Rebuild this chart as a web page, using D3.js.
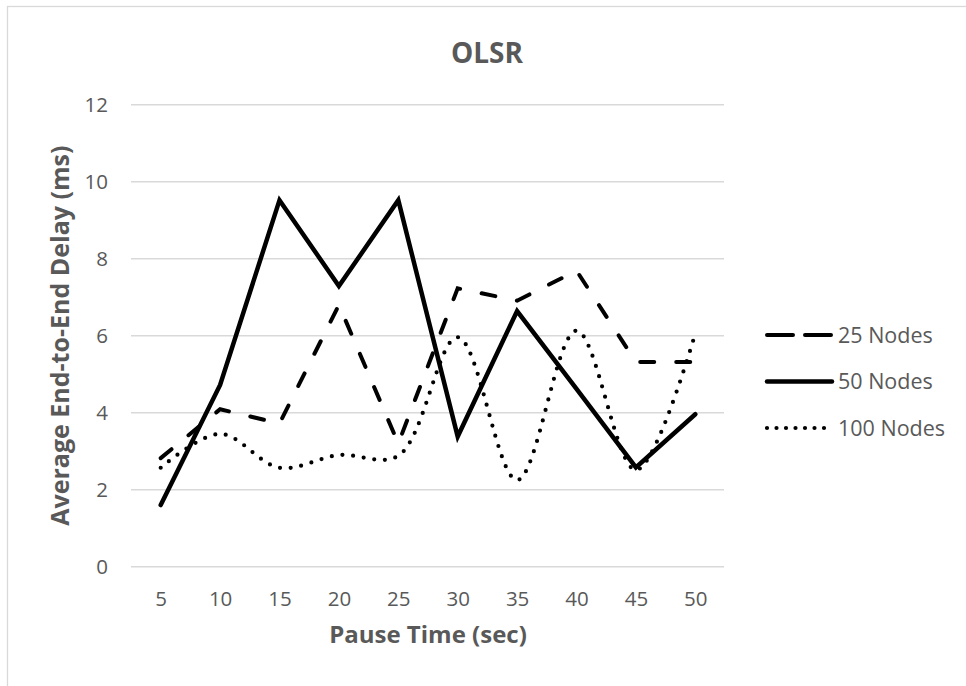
<!DOCTYPE html>
<html>
<head>
<meta charset="utf-8">
<script src="https://cdn.jsdelivr.net/npm/d3@7"></script>
<style>
  body { margin: 0; background: #fff; }
  text { font-family: "Open Sans", sans-serif; fill: #595959; }
</style>
</head>
<body>
<script>
// DATA

var pauseTimes = [5, 10, 15, 20, 25, 30, 35, 40, 45, 50];

var nodes25 = [2.82, 4.09, 3.72, 6.80, 3.20, 7.23, 6.91, 7.69, 5.32, 5.32];
var nodes50 = [1.60, 4.72, 9.52, 7.29, 9.52, 3.38, 6.64, 4.62, 2.58, 3.96];
var nodes100 = [2.57, 3.45, 2.57, 2.90, 2.88, 5.96, 2.25, 6.13, 2.51, 6.06];

var seriesNames = ["25 Nodes", "50 Nodes", "100 Nodes"];
var yTicks = [0, 2, 4, 6, 8, 10, 12];

// CHART STRUCTURE

var svgWidth = 966;
var svgHeight = 686;

var plot = {left: 131, right: 725, top: 104.7, bottom: 566.7};

var svg = d3.select("body")
  .append("svg")
  .attr("width", svgWidth)
  .attr("height", svgHeight);

// chart frame (cropped at right/bottom in the original)
svg.append("rect")
  .attr("x", 7.5)
  .attr("y", 6.5)
  .attr("width", 1000)
  .attr("height", 700)
  .attr("fill", "#fff")
  .attr("stroke", "#d9d9d9")
  .attr("stroke-width", 1.3);

// SCALES

var xScale = d3.scalePoint()
  .domain(pauseTimes)
  .range([plot.left, plot.right])
  .padding(0.5);

var yScale = d3.scaleLinear()
  .domain([0, 12])
  .range([plot.bottom, plot.top]);

// GRIDLINES

svg.append("g")
  .selectAll("line")
  .data(yTicks)
  .enter()
  .append("line")
  .attr("x1", plot.left)
  .attr("x2", plot.right - 1)
  .attr("y1", d => yScale(d))
  .attr("y2", d => yScale(d))
  .attr("stroke", "#d9d9d9")
  .attr("stroke-width", 1.5);

// AXES (labels only, Excel style)

var yAxis = d3.axisLeft(yScale).tickValues(yTicks).tickSize(0).tickPadding(0);
var yAxisG = svg.append("g")
  .attr("transform", "translate(108,0)")
  .call(yAxis);
yAxisG.select(".domain").remove();
yAxisG.selectAll("text")
  .attr("font-size", 20.5)
  .attr("fill", "#595959")
  .attr("font-family", "Open Sans, sans-serif")
  .attr("dy", "0.35em");

var xAxis = d3.axisBottom(xScale).tickSize(0).tickPadding(0);
var xAxisG = svg.append("g")
  .attr("transform", "translate(0,599)")
  .call(xAxis);
xAxisG.select(".domain").remove();
xAxisG.selectAll("text")
  .attr("font-size", 20.5)
  .attr("fill", "#595959")
  .attr("font-family", "Open Sans, sans-serif")
  .attr("dy", "0.35em");

// TITLES

svg.append("text")
  .attr("x", 487)
  .attr("y", 63)
  .attr("text-anchor", "middle")
  .attr("font-size", 28)
  .attr("font-weight", "bold")
  .text("OLSR");

svg.append("text")
  .attr("x", 428)
  .attr("y", 643)
  .attr("text-anchor", "middle")
  .attr("font-size", 24)
  .attr("font-weight", "bold")
  .text("Pause Time (sec)");

svg.append("text")
  .attr("transform", "translate(69," + (plot.top + plot.bottom) / 2 + ") rotate(-90)")
  .attr("text-anchor", "middle")
  .attr("font-size", 25)
  .attr("font-weight", "bold")
  .text("Average End-to-End Delay (ms)");

// LINES

var lineStraight = d3.line()
  .x((d, i) => xScale(pauseTimes[i]))
  .y(d => yScale(d));

var lineSmooth = d3.line()
  .x((d, i) => xScale(pauseTimes[i]))
  .y(d => yScale(d))
  .curve(d3.curveCatmullRom);

svg.append("path")
  .attr("d", lineStraight(nodes25))
  .attr("fill", "none")
  .attr("stroke", "#000")
  .attr("stroke-width", 4)
  .attr("stroke-linecap", "round")
  .attr("stroke-dasharray", "14,22");

svg.append("path")
  .attr("d", lineStraight(nodes50))
  .attr("fill", "none")
  .attr("stroke", "#000")
  .attr("stroke-width", 4.5)
  .attr("stroke-linejoin", "miter")
  .attr("stroke-linecap", "round");

svg.append("path")
  .attr("d", lineSmooth(nodes100))
  .attr("fill", "none")
  .attr("stroke", "#000")
  .attr("stroke-width", 4.2)
  .attr("stroke-linecap", "round")
  .attr("stroke-dasharray", "0,10.7");

// LEGEND

var legendStyles = [
  {dash: "26,12", width: 4, cap: "round"},
  {dash: null, width: 4.5, cap: "round"},
  {dash: "0,9.5", width: 4.2, cap: "round"}
];

var legend = svg.append("g")
  .selectAll("g")
  .data(seriesNames)
  .enter()
  .append("g")
  .attr("transform", (d, i) => "translate(0," + (335 + i * 46.5) + ")");

legend.append("line")
  .attr("x1", 767)
  .attr("x2", 832)
  .attr("y1", 0)
  .attr("y2", 0)
  .attr("stroke", "#000")
  .attr("stroke-width", (d, i) => legendStyles[i].width)
  .attr("stroke-linecap", (d, i) => legendStyles[i].cap)
  .attr("stroke-dasharray", (d, i) => legendStyles[i].dash);

legend.append("text")
  .attr("x", 838)
  .attr("y", 0)
  .attr("dy", "0.35em")
  .attr("font-size", 21.5)
  .text(d => d);
</script>
</body>
</html>
